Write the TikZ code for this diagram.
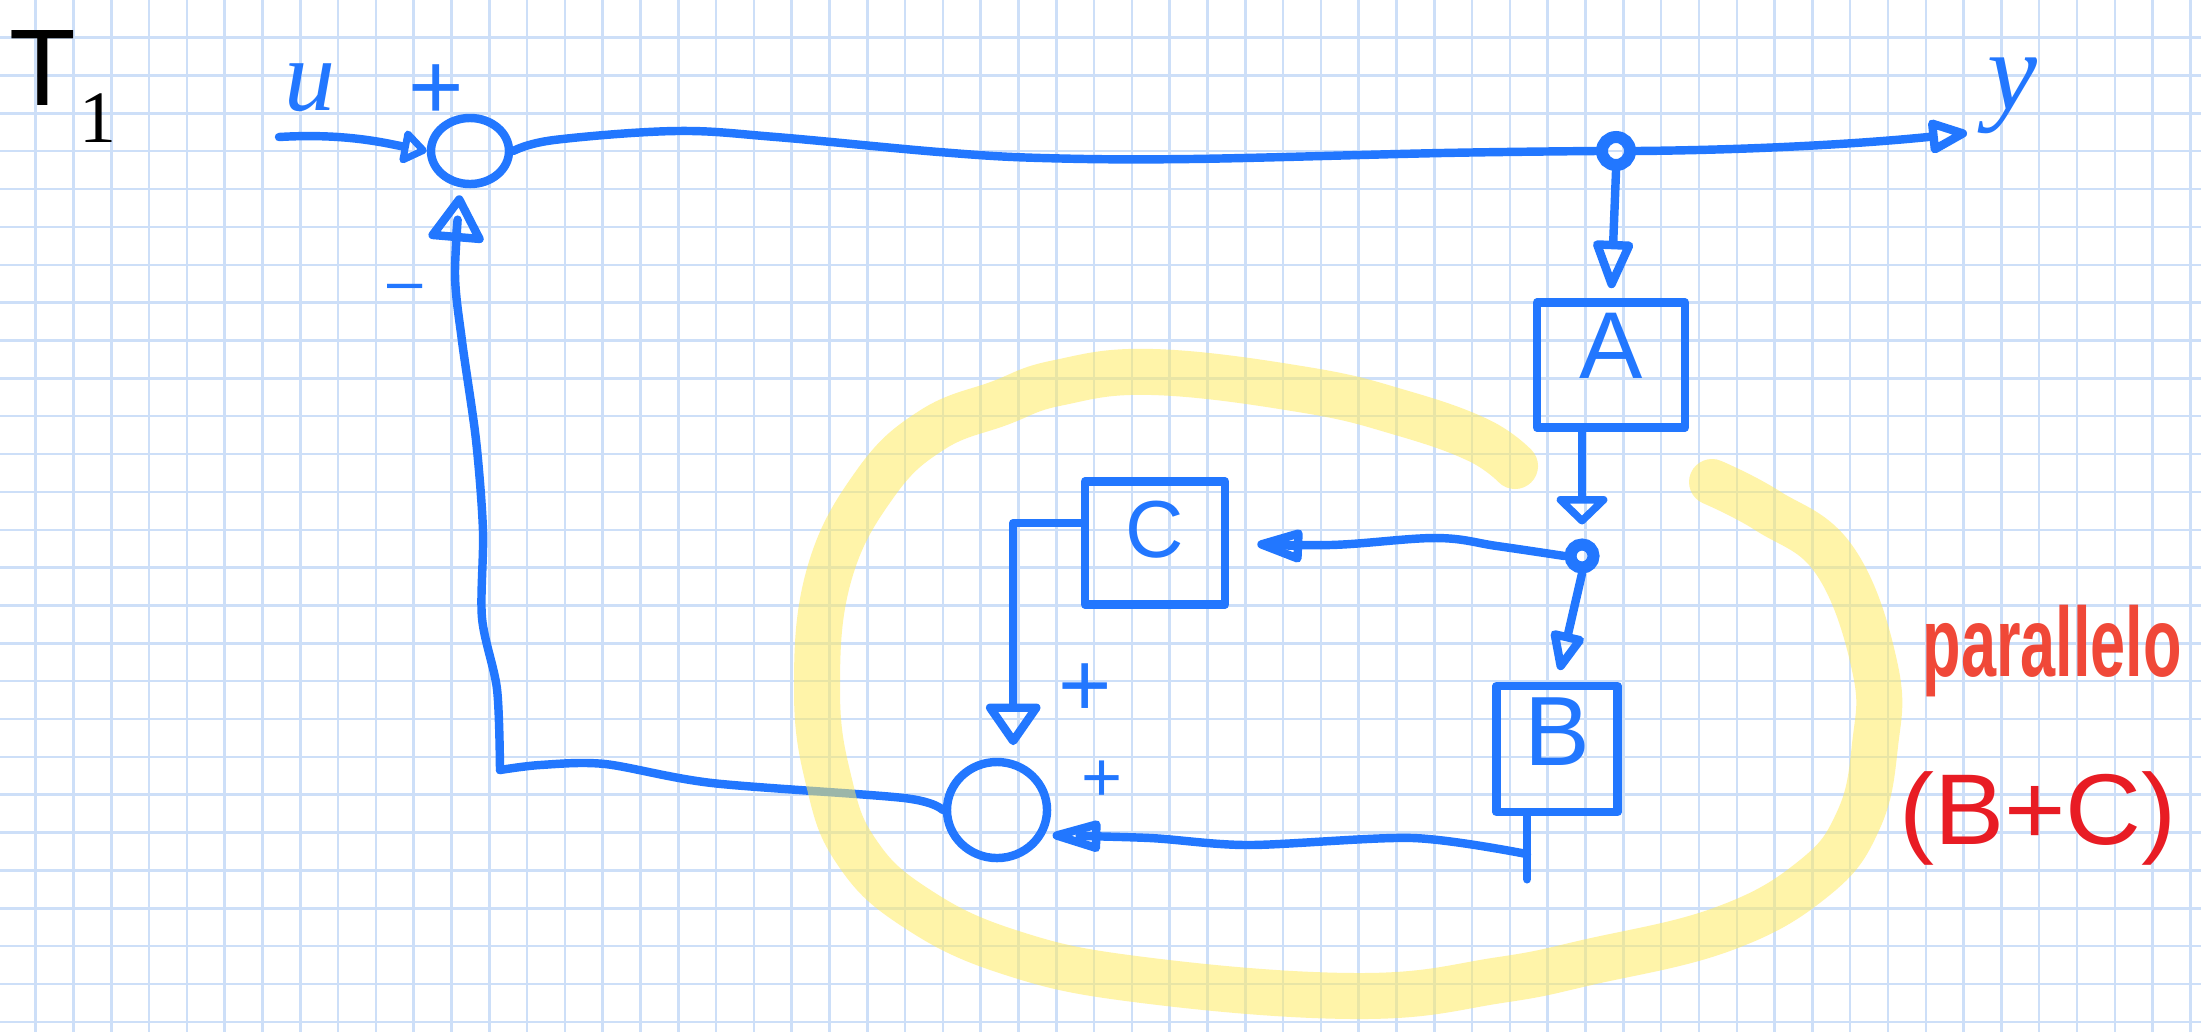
\documentclass[tikz,border=0pt]{standalone}
\usepackage{fontspec}
\setmainfont{Liberation Sans}
\newfontfamily\seriffam{Liberation Serif}
\usetikzlibrary{arrows.meta,shapes.geometric}
\definecolor{inkblue}{RGB}{34,119,255}
\definecolor{gridblue}{RGB}{205,223,248}
\definecolor{hilite}{RGB}{255,235,100}
\definecolor{redA}{RGB}{240,72,56}
\definecolor{redB}{RGB}{232,28,36}
\newcommand{\fs}[1]{\fontsize{#1}{#1}\selectfont}
\begin{document}
\begin{tikzpicture}[x=0.01cm, y=-0.01cm,
  ink/.style={draw=inkblue, line width=2.4pt, line cap=round, line join=round},
  blk/.style={ink, rectangle, inner sep=0pt, text=inkblue},
  sumnode/.style={ink, ellipse, inner sep=0pt},
  junc/.style={draw=inkblue, circle, inner sep=0pt, minimum size=0.26cm, line width=0.12cm},
  arrowto/.style n args={2}{ink, -{Triangle[open, round, length=#1, width=#2]}},
  lbl/.style={inner sep=0pt, text=inkblue},
  gridline/.style={draw=gridblue, line width=0.7pt}]

\fill[white] (0,0) rectangle (2201,1032);
\useasboundingbox (0,0) rectangle (2201,1032);
\foreach \i in {0,...,57} \draw[gridline] ({35.7+37.8*\i},0) -- ({35.7+37.8*\i},1032);
\foreach \j in {0,...,26} \draw[gridline] (0,{37.7+37.85*\j}) -- (2201,{37.7+37.85*\j});

% blocks and junctions
\node[sumnode, minimum width=0.78cm, minimum height=0.66cm] (s1) at (470,151) {};
\node[junc, minimum size=0.28cm] (j1) at (1616,151) {};
\node[blk, minimum width=1.48cm, minimum height=1.25cm, font=\fs{27pt}] (A) at (1611,365) {\raisebox{0.19cm}[\height][\depth]{A}\hspace{0.36cm}};
\node[junc, minimum size=0.23cm] (j2) at (1582,556) {};
\node[blk, minimum width=1.40cm, minimum height=1.23cm, font=\fs{23pt}] (C) at (1155,543) {\raisebox{0.13cm}[\height][\depth]{C}\hspace{0.18cm}};
\node[blk, minimum width=1.21cm, minimum height=1.26cm, font=\fs{28pt}] (B) at (1557,749) {\raisebox{0.17cm}[\height][\depth]{B}\hspace{0.34cm}};
\node[sumnode, minimum width=1.0cm, minimum height=0.96cm] (s2) at (997,810) {};

% labels
\node[inner sep=0pt, anchor=base west, font=\fs{31pt}] (T1) at (9,105) {T\kern0.03cm\raisebox{-0.37cm}{\seriffam\fs{21pt}1}};
\node[lbl, font=\seriffam\itshape\fs{29pt}] (ulbl) at (310,88) {u};
\node[lbl, font=\fs{27pt}] (plusA) at (436,92) {+};
\node[lbl, font=\fs{18pt}] (minus) at (405,293) {\textendash};
\node[lbl, font=\seriffam\itshape\fs{32pt}] (ylbl) at (2012,96) {y};
\node[lbl, font=\fs{26pt}] (plusB) at (1085,690) {+};
\node[lbl, font=\fs{20pt}] (plusC) at (1102,781) {+};
\node[inner sep=0pt, anchor=base west, text=redA, font=\bfseries\fs{28pt}] (par) at (1922,676) {\scalebox{0.64}[1]{parallelo}};
\node[inner sep=0pt, text=redB, font=\fs{26pt}] (bcl) at (2038,818) {\scalebox{1.15}[1.1]{(B+C)}};

% connectors
\coordinate (uin) at (279,137);
\draw[arrowto={0.28cm}{0.38cm}] (uin) .. controls (345,133) and (385,143) .. (s1.west);
\draw[ink] plot[smooth, tension=0.6] coordinates {(s1.east) (554,140) (676,131) (776,137) (939,152) (1042,158) (1190,159) (1442,153) (j1.west)};
\coordinate (yout) at (1967,133);
\draw[arrowto={0.45cm}{0.36cm}] (j1.east) .. controls (1750,150) and (1860,144) .. (yout);
\draw[arrowto={0.55cm}{0.42cm}, shorten >=0.1cm] (j1.south) -- (A.north);
\draw[arrowto={0.3cm}{0.6cm}, shorten >=0.14cm] (A.south -| j2.north) -- (j2.north);
\draw[arrowto={0.55cm}{0.34cm}, shorten >=0.28cm] plot[smooth, tension=0.6] coordinates {(j2.west) (1497,546) (1436,538) (1330,545) (C.east)};
\draw[arrowto={0.45cm}{0.36cm}, shorten >=0.12cm] (j2.south) -- (B.north);
\draw[arrowto={0.45cm}{0.6cm}, shorten >=0.15cm] (C.165) -| (s2.72);
\draw[ink] (B.246) -- ++(0,63) coordinate[pos=0.6] (bcorner);
\draw[arrowto={0.6cm}{0.32cm}, shorten >=0.08cm] plot[smooth, tension=0.5] coordinates {(bcorner) (1413,838) (1249,845) (1150,838) (s2.-28)};
\coordinate (fc) at (500,770);
\draw[ink] plot[smooth, tension=0.5] coordinates {(s2.west) (904,798) (712,783) (605,764) (540,765) (fc)};
\draw[arrowto={0.5cm}{0.6cm}, shorten >=0.08cm] plot[smooth, tension=0.5] coordinates {(fc) (497,689) (482,618) (483,531) (476,440) (462,341) (455,274) (s1.255)};

% highlighter loop
\draw[draw=hilite, draw opacity=0.55, line width=0.46cm, line cap=round, line join=round]
  plot[smooth, tension=0.7] coordinates {(1515,466) (1478,440) (1402,413) (1306,390) (1153,372) (1057,383) (1000,403) (932,430) (875,484) (829,575) (817,690) (829,782) (856,851) (913,906) (1009,952) (1143,980) (1360,996) (1500,980) (1589,962) (1723,929) (1813,879) (1858,821) (1875,745) (1875,668) (1835,561) (1768,511) (1712,482)};
\end{tikzpicture}
\end{document}
